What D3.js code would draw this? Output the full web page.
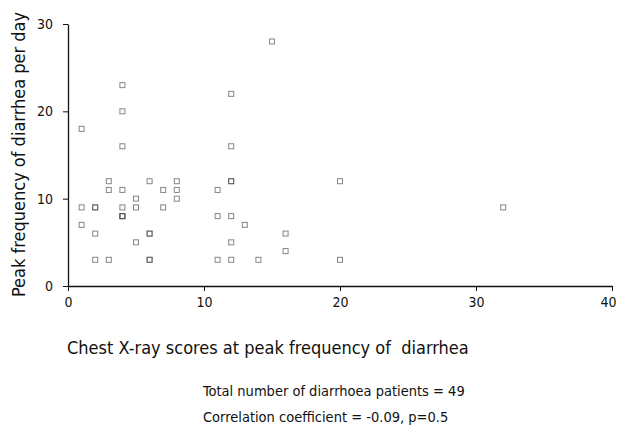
<!DOCTYPE html>
<html>
<head>
<meta charset="utf-8">
<script src="https://cdn.jsdelivr.net/npm/d3@7"></script>
<style>
  body { margin: 0; background: #fff; }
  text { font-family: "DejaVu Sans Condensed", "DejaVu Sans", sans-serif; font-stretch: condensed; fill: #111; }
</style>
</head>
<body>
<div id="chart"></div>
<script>
// chest X-ray score vs peak daily diarrhea frequency (49 patients)
const xScores = [1, 1, 1, 2, 2, 2, 2, 3, 3, 3, 4, 4, 4, 4, 4, 4, 4, 4,
                 5, 5, 5, 6, 6, 6, 6, 6, 7, 7, 8, 8, 8,
                 11, 11, 11, 12, 12, 12, 12, 12, 12, 12, 13, 14, 15, 16, 16, 20, 20, 32];
const yFreq   = [18, 9, 7, 9, 9, 6, 3, 12, 11, 3, 23, 20, 16, 11, 9, 8, 8, 8,
                 10, 9, 5, 12, 6, 6, 3, 3, 11, 9, 12, 11, 10,
                 11, 8, 3, 22, 16, 12, 12, 8, 5, 3, 7, 3, 28, 6, 4, 12, 3, 9];
const xTicks = [0, 10, 20, 30, 40];
const yTicks = [0, 10, 20, 30];

const W = 619, H = 427;
const margin = { top: 24, right: 7, bottom: 141, left: 68 };

const svg = d3.select('#chart').append('svg').attr('width', W).attr('height', H);

const x = d3.scaleLinear().domain([0, 40]).range([margin.left, W - margin.right]);
const y = d3.scaleLinear().domain([0, 30]).range([H - margin.bottom, margin.top]);

svg.append('g').attr('transform', `translate(0,${y(0)})`)
  .call(d3.axisBottom(x).tickValues(xTicks).tickSize(5).tickSizeOuter(0).tickPadding(6))
  .call(a => a.select('.domain').attr('stroke', '#111').attr('stroke-width', 1.3))
  .call(a => a.selectAll('line').attr('stroke', '#111'))
  .call(a => a.selectAll('text').style('font-size', '14px').attr('fill', '#111'))
  // last label sits on the right edge
  .call(a => a.selectAll('.tick').filter(d => d === 40).select('text').attr('dx', -4));

svg.append('g').attr('transform', `translate(${x(0)},0)`)
  .call(d3.axisLeft(y).tickValues(yTicks).tickSize(5).tickSizeOuter(0).tickPadding(10))
  .call(a => a.select('.domain').attr('stroke', '#111').attr('stroke-width', 1.3))
  .call(a => a.selectAll('line').attr('stroke', '#111'))
  .call(a => a.selectAll('text').style('font-size', '14px').attr('fill', '#111'));

const pts = xScores.map((v, i) => ({ x: v, y: yFreq[i] }));
const s = 5;
svg.append('g').selectAll('rect').data(pts).join('rect')
  .attr('x', d => x(d.x) - s / 2)
  .attr('y', d => y(d.y) - s / 2)
  .attr('width', s).attr('height', s)
  .attr('fill', 'none')
  .attr('stroke', '#444').attr('stroke-opacity', 0.65).attr('stroke-width', 1);

svg.append('text')
  .attr('transform', `translate(25,${y(0) + 11}) rotate(-90)`)
  .style('font-size', '18px')
  .text('Peak frequency of diarrhea per day');

svg.append('text').attr('x', 67).attr('y', 354)
  .style('font-size', '18px').style('white-space', 'pre')
  .text('Chest X-ray scores at peak frequency of  diarrhea');

svg.append('text').attr('x', 203).attr('y', 396)
  .style('font-size', '14.5px')
  .text('Total number of diarrhoea patients = 49');

svg.append('text').attr('x', 203).attr('y', 422)
  .style('font-size', '14.5px')
  .text('Correlation coefficient = -0.09, p=0.5');
</script>
</body>
</html>
